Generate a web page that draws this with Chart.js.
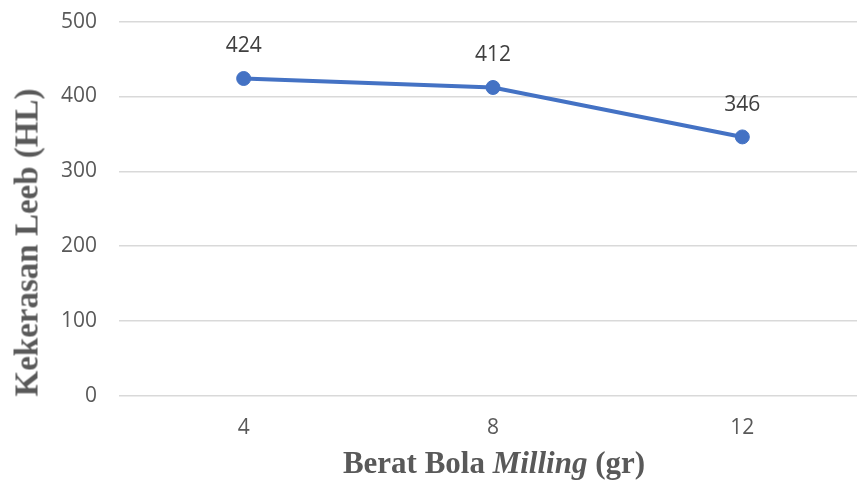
<!DOCTYPE html>
<html>
<head>
<meta charset="utf-8">
<script src="https://cdn.jsdelivr.net/npm/chart.js@4/dist/chart.umd.min.js"></script>
<style>
  html, body { margin: 0; padding: 0; background: #fff; overflow: hidden; }
  #wrap { position: relative; width: 857px; height: 485px; overflow: hidden; }
  #wrap canvas { position: absolute; left: 0; top: -13px; }
  .axis-title {
    position: absolute; text-align: center; white-space: nowrap;
    font-family: "Liberation Serif", "Times New Roman", serif; font-weight: bold;
    color: #595959;
  }
  #xtitle { left: 0; width: 988px; top: 447px; font-size: 31px; line-height: 31px; }
  #ytitle {
    left: -173px; top: 225.5px; width: 400px; height: 33px;
    font-size: 33px; line-height: 33px; transform: rotate(-90deg);
  }
</style>
</head>
<body>
<div id="wrap">
  <canvas id="c" width="875" height="498" style="width:875px;height:498px"></canvas>
  <div id="ytitle" class="axis-title">Kekerasan Leeb (HL)</div>
  <div id="xtitle" class="axis-title">Berat Bola <i>Milling</i> (gr)</div>
</div>
<script>
// Berat bola milling (gr) vs kekerasan Leeb (HL)
const categories = ['4', '8', '12'];
const hardness = [424, 412, 346];
const yTicks = [0, 100, 200, 300, 400, 500];

const tickFont = { family: '"Open Sans", "Noto Sans", sans-serif', size: 21 };

// value labels above each point
const valueLabels = {
  id: 'valueLabels',
  afterDatasetsDraw(chart) {
    const ctx = chart.ctx;
    const meta = chart.getDatasetMeta(0);
    ctx.save();
    ctx.font = '21px "Open Sans", "Noto Sans", sans-serif';
    ctx.fillStyle = '#404040';
    ctx.textAlign = 'center';
    ctx.textBaseline = 'middle';
    meta.data.forEach((pt, i) => {
      ctx.fillText(String(hardness[i]), pt.x, pt.y - 32);
    });
    ctx.restore();
  }
};

new Chart(document.getElementById('c'), {
  type: 'line',
  data: {
    labels: categories,
    datasets: [{
      data: hardness,
      borderColor: '#4472C4',
      backgroundColor: '#4472C4',
      borderWidth: 4,
      pointRadius: 7,
      pointBorderWidth: 1,
      pointBackgroundColor: '#4472C4',
      pointBorderColor: '#4472C4',
      tension: 0,
      fill: false
    }]
  },
  options: {
    responsive: false,
    animation: false,
    layout: { padding: { top: 8, right: 6, left: 0, bottom: 0 } },
    plugins: { legend: { display: false }, tooltip: { enabled: false } },
    scales: {
      x: {
        type: 'category',
        offset: true,
        grid: { display: false, drawTicks: false },
        border: { display: false },
        ticks: { color: '#595959', font: tickFont, padding: 19 },
        afterFit(scale) { scale.height = 89; }
      },
      y: {
        min: 0,
        max: 500,
        afterBuildTicks(scale) { scale.ticks = yTicks.map(v => ({ value: v })); },
        grid: { color: '#D9D9D9', lineWidth: 1.5, drawTicks: false },
        border: { display: false },
        ticks: { color: '#595959', font: tickFont, padding: 22 },
        afterFit(scale) { scale.width = 119; }
      }
    }
  },
  plugins: [valueLabels]
});
</script>
</body>
</html>
